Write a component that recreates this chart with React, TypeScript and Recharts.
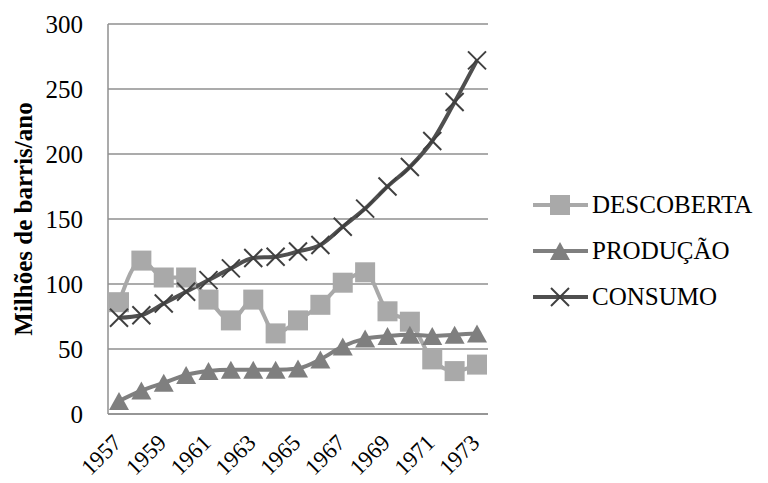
import { CartesianGrid, Legend, Line, LineChart, XAxis, YAxis } from "recharts";

const years = ["1957", "1958", "1959", "1960", "1961", "1962", "1963", "1964", "1965", "1966", "1967", "1968", "1969", "1970", "1971", "1972", "1973"];
const descoberta = [86, 118, 105, 105, 88, 72, 88, 62, 72, 84, 101, 109, 79, 71, 42, 33, 38];
const producao = [10, 18, 24, 30, 33, 34, 34, 34, 35, 42, 52, 58, 60, 61, 60, 61, 62];
const consumo = [74, 76, 85, 94, 103, 112, 120, 121, 125, 130, 144, 158, 175, 190, 210, 240, 272];
const yTicks = [0, 50, 100, 150, 200, 250, 300];

const data = years.map((year, i) => ({
  year,
  descoberta: descoberta[i],
  producao: producao[i],
  consumo: consumo[i],
}));

const FONT = "'Liberation Serif', 'Times New Roman', serif";
const C_DESC = "#a9a9a9";
const C_PROD = "#7f7f7f";
const C_CONS = "#4f4f4f";

function Square({ cx, cy, color }: { cx: number; cy: number; color: string }) {
  return <rect x={cx - 10} y={cy - 10} width={20} height={20} fill={color} />;
}

function Triangle({ cx, cy, color }: { cx: number; cy: number; color: string }) {
  return <polygon points={`${cx},${cy - 9} ${cx + 10},${cy + 9} ${cx - 10},${cy + 9}`} fill={color} />;
}

function Cross({ cx, cy, color }: { cx: number; cy: number; color: string }) {
  return (
    <g stroke={color} strokeWidth={2}>
      <line x1={cx - 9} y1={cy - 9} x2={cx + 9} y2={cy + 9} />
      <line x1={cx - 9} y1={cy + 9} x2={cx + 9} y2={cy - 9} />
    </g>
  );
}

const legendItems = [
  { name: "DESCOBERTA", color: C_DESC, marker: (x: number, y: number) => <Square cx={x} cy={y} color={C_DESC} /> },
  { name: "PRODUÇÃO", color: C_PROD, marker: (x: number, y: number) => <Triangle cx={x} cy={y} color={C_PROD} /> },
  { name: "CONSUMO", color: C_CONS, marker: (x: number, y: number) => <Cross cx={x} cy={y} color="#3f3f3f" /> },
];

function LegendContent() {
  return (
    <div style={{ fontFamily: FONT, fontSize: 25, color: "#000" }}>
      {legendItems.map((item) => (
        <div key={item.name} style={{ display: "flex", alignItems: "center", height: 46 }}>
          <svg width={60} height={24} style={{ marginRight: 2 }}>
            <line x1={3} y1={12} x2={58} y2={12} stroke={item.color} strokeWidth={4} />
            {item.marker(30, 12)}
          </svg>
          <span>{item.name}</span>
        </div>
      ))}
    </div>
  );
}

function YearTick(props: any) {
  const { x, y, payload } = props;
  const ax = x + 4;
  const ay = y + 22;
  return (
    <text x={ax} y={ay} textAnchor="end" transform={`rotate(-45, ${ax}, ${ay})`} style={{ fontFamily: FONT, fontSize: 23 }} fill="#000">
      {payload.value}
    </text>
  );
}

function ValueTick(props: any) {
  const { y, payload } = props;
  return (
    <text x={83} y={y} textAnchor="end" dominantBaseline="central" style={{ fontFamily: FONT, fontSize: 25 }} fill="#000">
      {payload.value}
    </text>
  );
}

function YLabel(props: any) {
  const { viewBox } = props;
  const x = viewBox.x + 23;
  const y = viewBox.y + viewBox.height / 2;
  return (
    <text x={x} y={y} textAnchor="middle" dominantBaseline="central" transform={`rotate(-90, ${x}, ${y})`} style={{ fontFamily: FONT, fontSize: 25, fontWeight: "bold" }} fill="#000">
      Milhões de barris/ano
    </text>
  );
}

export default function App() {
  return (
    <div style={{ position: "absolute", left: 0, top: 0, background: "#fff" }}>
      <LineChart width={768} height={483} data={data} margin={{ top: 24, right: 42, bottom: 0, left: 0 }}>
        <CartesianGrid vertical={false} stroke="#8f8f8f" strokeWidth={1.3} />
        <XAxis
          dataKey="year"
          height={69}
          interval={1}
          padding={{ left: 11, right: 11 }}
          tick={<YearTick />}
          tickLine={false}
          axisLine={{ stroke: "#8f8f8f", strokeWidth: 1.5 }}
        />
        <YAxis
          width={108}
          domain={[0, 300]}
          ticks={yTicks}
          tickLine={false}
          axisLine={{ stroke: "#8f8f8f", strokeWidth: 1.5 }}
          tick={<ValueTick />}
          label={<YLabel />}
        />
        <Legend
          layout="vertical"
          align="right"
          verticalAlign="middle"
          width={238}
          wrapperStyle={{ left: 530, top: 182, width: 238 }}
          content={<LegendContent />}
        />
        <Line
          type="monotone"
          dataKey="descoberta"
          name="DESCOBERTA"
          stroke={C_DESC}
          strokeWidth={4}
          isAnimationActive={false}
          dot={(p: any) => <Square key={p.index} cx={p.cx} cy={p.cy} color={C_DESC} />}
        />
        <Line
          type="monotone"
          dataKey="producao"
          name="PRODUÇÃO"
          stroke={C_PROD}
          strokeWidth={4}
          isAnimationActive={false}
          dot={(p: any) => <Triangle key={p.index} cx={p.cx} cy={p.cy} color={C_PROD} />}
        />
        <Line
          type="monotone"
          dataKey="consumo"
          name="CONSUMO"
          stroke={C_CONS}
          strokeWidth={4}
          isAnimationActive={false}
          dot={(p: any) => <Cross key={p.index} cx={p.cx} cy={p.cy} color="#3f3f3f" />}
        />
      </LineChart>
    </div>
  );
}
